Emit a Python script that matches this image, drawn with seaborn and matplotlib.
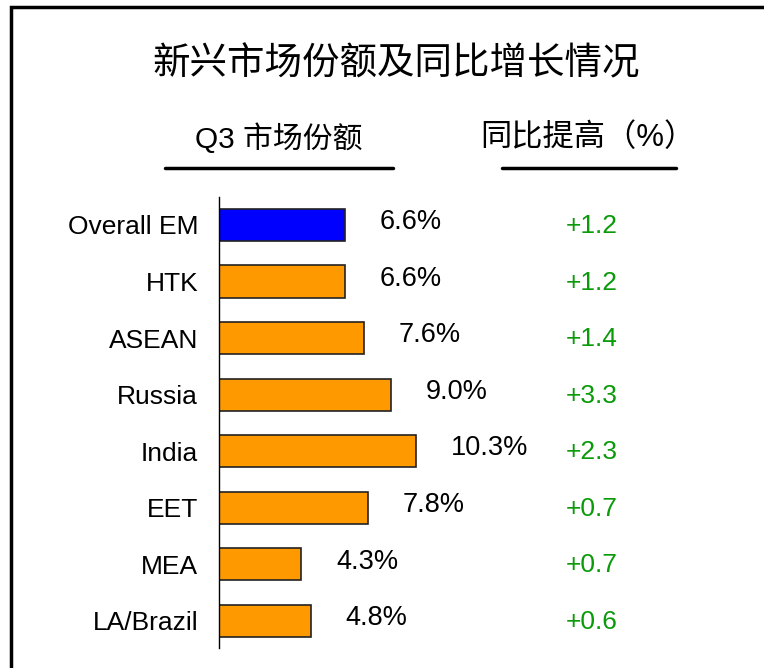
import matplotlib
matplotlib.use("Agg")
import matplotlib.pyplot as plt
import seaborn as sns
import pandas as pd
from matplotlib.lines import Line2D
from matplotlib.patches import Rectangle
import matplotlib.transforms as mtransforms

# Data
regions = ["Overall EM", "HTK", "ASEAN", "Russia", "India", "EET", "MEA", "LA/Brazil"]
share_q3 = [6.6, 6.6, 7.6, 9.0, 10.3, 7.8, 4.3, 4.8]
yoy_gain = [1.2, 1.2, 1.4, 3.3, 2.3, 0.7, 0.7, 0.6]

title = "新兴市场份额及同比增长情况"
header_left = "Q3 市场份额"
header_right = "同比提高（%）"

sns.set_theme(style="white")
plt.rcParams["font.family"] = ["Liberation Sans", "Noto Sans CJK SC", "DejaVu Sans"]

df = pd.DataFrame({"region": regions, "share": share_q3})
colors = ["#0000FF"] + ["#FF9900"] * (len(regions) - 1)

fig = plt.figure(figsize=(7.64, 6.68), dpi=100)
ax = fig.add_axes([0.2866, 0.0299, 0.7134, 0.6752])

sns.barplot(data=df, y="region", x="share", hue="region", palette=colors,
            orient="h", width=0.57, edgecolor="#222222", linewidth=1.2,
            saturation=1, legend=False, ax=ax)

ax.set_xlim(0, 28.5)
ax.set_ylim(len(regions) - 0.52, -0.495)
ax.set_xlabel("")
ax.set_ylabel("")
ax.set_xticks([])
for s in ["top", "right", "bottom"]:
    ax.spines[s].set_visible(False)
ax.spines["left"].set_color("black")
ax.spines["left"].set_linewidth(1)
ax.tick_params(axis="y", length=0, pad=15, labelsize=19, colors="black")

# value labels next to bars
for i, v in enumerate(share_q3):
    ax.annotate(f"{v:.1f}%", xy=(v, i), xytext=(25, 2), textcoords="offset points",
                ha="left", va="center", fontsize=19.5, color="black")

# year-on-year gain column
trans = mtransforms.blended_transform_factory(fig.transFigure, ax.transData)
for i, g in enumerate(yoy_gain):
    ax.text(0.775, i + 0.02, f"+{g:.1f}", transform=trans, ha="center", va="center",
            fontsize=19, color="#0A9A0A")

# title and column headers
fig.text(0.518, 0.903, title, ha="center", va="center", fontsize=27, color="black")
fig.text(0.365, 0.793, header_left, ha="center", va="center", fontsize=21.5, color="black")
fig.text(0.77, 0.793, header_right, ha="center", va="center", fontsize=22.5, color="black")
fig.add_artist(Line2D([165 / 764, 393 / 764], [0.7485, 0.7485], color="black", lw=2.5))
fig.add_artist(Line2D([502 / 764, 676 / 764], [0.7485, 0.7485], color="black", lw=2.5))

# frame (top and left edges visible)
fig.add_artist(Rectangle((11 / 764, -0.2), 1.2, 1.2 - 7 / 668, transform=fig.transFigure,
                         fill=False, edgecolor="black", lw=2.5, clip_on=False))

fig.savefig("out.png", dpi=100, facecolor="white")
